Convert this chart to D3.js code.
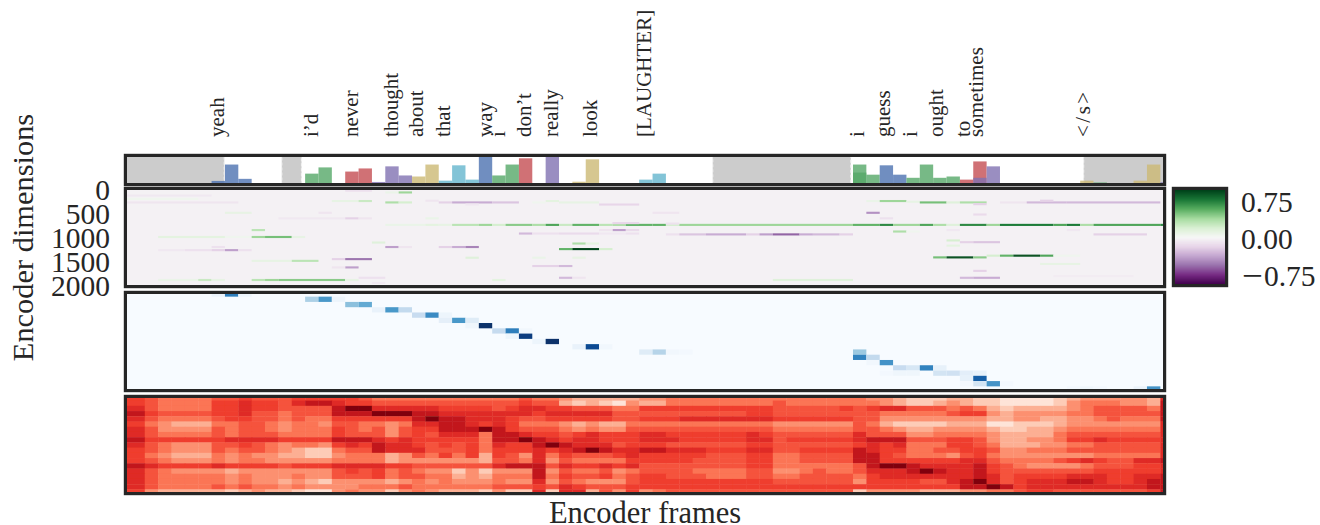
<!DOCTYPE html>
<html><head><meta charset="utf-8">
<script src="https://cdnjs.cloudflare.com/ajax/libs/d3/7.8.5/d3.min.js"></script>
<style>html,body{margin:0;padding:0;background:#fff;overflow:hidden}svg{display:block}text{font-family:"Liberation Serif",serif;fill:#262626}</style>
</head><body><svg id="c" width="1320" height="525"></svg>
<script>
const words=["yeah","i’d","never","thought","about","that","way","i","don’t","really","look","[LAUGHTER]","i","guess","i","ought","to","sometimes","</s>"];
const wordFrames=[5.93,12.96,15.93,18.95,20.85,22.85,25.95,26.97,28.87,30.93,33.85,37.9,53.8,55.76,57.76,59.75,61.77,62.76,70.75];
const silenceSpans=[[-2,5.95],[10.25,11.73],[42.5,52.84],[70.26,78]];
const barFrames=[5,6,7,12,13,15,16,17,18,19,20,21,22,23,24,25,26,27,28,30,32,33,37,38,53,53,54,55,56,57,58,59,60,61,62,62,63,70,71,74,75,76];
const barValues=[.08,.71,.16,.36,.6,.44,.56,.04,.64,.29,.25,.71,.09,.68,.13,1,.29,.71,.95,1,.05,.91,.13,.36,.71,.4,.32,.68,.32,.2,.71,.2,.25,.13,.83,.2,.64,.09,.02,.09,.71,.03];
const barColorIdx=[0,0,0,1,1,2,2,3,3,3,4,4,5,5,5,0,1,1,2,3,4,4,5,5,1,1,1,0,0,1,1,1,1,2,2,3,3,4,1,4,4,3];
const barPalette=["#4C72B0","#55A868","#C44E52","#8172B2","#CCB974","#64B5CD"];
const dimTicks=[0,500,1000,1500,2000];
const cbarTicks=[0.75,0,-0.75];
const prgnStops=["#40004b","#762a83","#9970ab","#c2a5cf","#e7d4e8","#f7f7f7","#d9f0d3","#a6dba0","#5aae61","#1b7837","#00441b"];
const redsStops=["#fff5f0","#fee0d2","#fcbba1","#fc9272","#fb6a4a","#ef3b2c","#cb181d","#a50f15","#67000d"];
const bluesStops=["#f7fbff","#deebf7","#c6dbef","#9ecae1","#6baed6","#4292c6","#2171b5","#08519c","#08306b"];
// [dimension, first frame, last frame, value]
const activationStreaks=[
[15,15,16,-.12],[51,18,18,.08],[51,19,19,.4],[115,-1,4,-.08],[187,-1,3,.05],[259,-1,6,-.1],[230,14,15,.1],[230,16,16,.25],[259,18,18,.35],[259,19,19,.2],[223,21,21,-.1],[259,22,22,-.2],[259,23,25,-.35],[259,26,27,-.25],[303,24,24,-.08],[230,30,30,.12],[259,29,29,.05],[259,31,33,.1],[303,34,36,-.18],
[475,6,7,.1],[475,13,13,-.1],[590,10,14,-.08],[590,15,15,-.2],[590,16,16,-.1],[590,21,21,.08],
[727,18,20,.08],[727,21,21,.12],[727,22,22,.1],[727,23,24,.3],[727,25,25,.4],[727,26,26,.2],[727,27,28,.45],[727,29,29,.35],[727,30,30,.6],[727,31,31,.25],[727,32,33,.55],[727,34,34,.3],[727,35,35,.35],[727,36,37,.55],[727,38,38,.55],[727,39,39,.2],[727,40,52,.4],[727,53,54,.55],[727,55,55,.7],[727,56,57,.4],[727,58,58,.6],[727,59,59,.35],[727,60,60,.15],[727,61,62,.7],[727,63,63,.4],[727,64,67,.75],[727,68,68,.6],[727,69,69,.75],[727,70,70,.35],[727,71,75,.6],[727,76,76,.7],
[835,8,8,.3],[690,35,36,-.18],[835,35,35,-.4],[835,36,36,-.15],[835,34,34,-.1],
[979,1,5,.12],[979,6,7,.05],[979,8,8,.4],[979,9,10,.5],[979,11,11,.1],
[907,28,28,-.3],[907,29,30,-.12],[907,31,33,-.15],[907,34,35,-.08],[907,36,36,-.12],
[1095,17,17,.15],[1115,32,32,.35],[1115,33,33,.12],[1188,18,18,-.4],[1188,19,19,-.1],[1188,22,22,-.2],[1188,23,23,-.35],[1188,24,24,-.5],[1188,5,5,-.12],
[1253,1,2,-.08],[1253,3,4,-.12],[1253,5,5,-.2],[1253,6,6,-.4],[1253,7,7,-.12],
[1231,31,31,.55],[1231,32,33,.95],[1231,34,34,.2],[1440,14,14,-.2],[1440,15,16,-.55],[1476,8,10,.1],[1476,11,12,.3],[1411,24,24,.15],[1411,29,29,.08],[1411,32,32,.1],
[1613,15,15,-.4],[1613,14,14,-.1],[1584,29,30,-.2],[1584,31,31,-.3],[1829,31,31,-.3],[1829,32,32,-.1],
[1875,1,3,.08],[1875,4,4,.25],[1875,5,5,.1],[1875,8,8,.3],[1875,9,9,.4],[1875,10,14,.45],[1875,15,15,.1],[1875,26,26,.12],[1829,16,17,-.12],[1937,17,17,-.08],[2009,18,19,-.08],[2009,22,24,-.15],
[475,38,39,-.1],[700,39,39,-.12],[925,39,39,-.12],[925,40,41,-.25],[925,42,44,-.35],[925,45,45,-.2],[925,46,46,-.4],[925,47,48,-.6],[925,49,49,-.35],[925,50,51,-.3],[925,52,52,-.2],
[230,54,54,.08],[230,55,56,.4],[245,57,57,.1],[259,58,59,.5],[259,60,60,.15],[259,61,62,.35],[259,64,65,-.1],[259,66,68,-.3],[259,69,75,-.3],[223,67,67,-.2],
[475,54,54,-.45],[511,62,62,-.15],[295,62,62,-.2],[590,55,55,-.12],[865,56,56,.35],[865,57,57,.05],[835,60,60,-.08],[835,69,69,-.08],[925,71,74,-.2],
[1051,60,60,.2],[1087,61,61,-.2],[1087,62,63,-.25],[1159,60,60,.12],
[1404,59,59,.5],[1404,60,61,.9],[1404,62,62,.45],[1368,63,63,.2],[1368,64,64,.55],[1368,65,66,.9],[1368,67,67,.6],[1368,68,69,.05],
[1685,62,62,-.2],[1829,61,61,-.3],[1829,62,63,-.35],[1875,47,52,.15],[1541,67,69,.1],[1793,68,73,-.06]
];
const attRows=[0,0,0,1,1,1,2,2,3,3,3,4,4,4,5,5,5,6,6,7,7,7,8,8,9,9,10,10,10,11,11,11,11,11,12,12,13,13,14,14,14,14,15,15,15,15,15,15,15,16,16,17,17,17,17,18,18,18,18,18];
const attFrames=[5,6,7,12,13,14,15,16,17,18,19,20,21,22,22,23,24,24,25,26,27,28,27,28,29,30,32,33,34,37,38,39,40,53,53,54,54,55,57,58,59,56,55,56,57,59,60,61,62,61,62,61,62,63,64,69,70,71,74,75];
const attValues=[.06,.7,.05,.33,.6,.05,.42,.52,.07,.6,.26,.24,.65,.05,.09,.6,.12,.04,1,.25,.7,.03,.05,.95,.05,1,.07,.9,.03,.12,.3,.03,.02,.38,.68,.26,.03,.62,.16,.68,.08,.24,.02,.04,.04,.18,.2,.1,.08,.08,.82,.02,.18,.62,.02,.02,.04,.02,.06,.62];
// one digit per frame, from frame -1 to frame 76; rows run over the 19 words
const encoderRows=[
"6544445565 5566666544 4444444445 44322222 3344444444 4444444332 1112211000 0123333327",
"6544446676 6578876655 5555555556 55212103 2244444444 5444444432 1123211000 0134443328",
"7544446676 6555589977 7776666567 76655544 6666666666 5555565677 5554542122 2234555548",
"8655556675 5455588899 9887777777 67777755 5555555566 5555555544 4445663233 3344555558",
"7544445665 5454466666 6898877765 56666655 6667777777 6666665533 3333332233 2233454448",
"6432224455 4344355443 4778876764 44323224 4444444444 3333335421 1112220011 1233333337",
"7533335455 4344465453 5668889865 55434335 5555555555 4444445543 2233332112 2344444447",
"7544445455 5444465553 5657774887 66567666 7766666676 5555557555 3344443222 2455555557",
"8666666777 7666688876 7666664889 87677666 7776666677 5666667888 5556653223 3466766667",
"7543335565 4344367687 7656564766 89877756 6655555566 5555556767 4446654222 3344555557",
"6543335455 4321145587 7755564666 76789877 8877766677 5566668766 4455665334 4455555557",
"6432224343 3221134442 3546462653 74655567 6666655566 4455558865 4443564333 3333444447",
"6543334344 3333344442 3333332554 73544446 6666555566 4455558866 6666775444 4567655778",
"8766667666 6566677776 6555555788 85766767 5555555566 4444445899 8777786543 3334555667",
"7543333233 3333356564 5433131333 83544534 5555444455 3345445777 8987786555 5555666667",
"7544444343 3343355564 5544232444 84655645 6655544455 4455554677 7777787566 6677766778",
"7544444343 3232133332 3434333433 73543335 6666666666 5555553666 6557897567 7788766788",
"7544445454 4343333444 5444444555 65765556 6666666666 6666666666 6666889867 7777777788",
"6322222123 2210034331 3432221311 71772536 3455555555 5555551333 3222334456 6555555568"
].map(r=>r.replace(/ /g,"").split("").map(Number));

const prgn=d3.piecewise(d3.interpolateRgb,prgnStops);
const reds=d3.piecewise(d3.interpolateRgb,redsStops);
const blues=d3.piecewise(d3.interpolateRgb,bluesStops);
const svg=d3.select("#c");
const ink="#262626",frameW=3.2;
const L=127,R=1163;
const x=d3.scaleLinear().domain([-1.33,76.2]).range([L,R]);
const panels={top:[157,183],act:[190,285],att:[294,389],enc:[398,492]};
const defs=svg.append("defs");
defs.append("filter").attr("id","soft").attr("x","-2%").attr("y","-10%").attr("width","104%").attr("height","120%")
 .append("feGaussianBlur").attr("stdDeviation",0.6);
function panel(name){
  const [t,b]=panels[name];
  defs.append("clipPath").attr("id","clip-"+name).append("rect").attr("x",L).attr("y",t).attr("width",R-L).attr("height",b-t);
  return svg.append("g").attr("clip-path",`url(#clip-${name})`);
}
function frame(x0,x1,t,b){
  svg.append("rect").attr("x",x0-frameW/2).attr("y",t-frameW/2).attr("width",x1-x0+frameW).attr("height",b-t+frameW)
   .attr("fill","none").attr("stroke",ink).attr("stroke-width",frameW);
}
const cellX=k=>k<0?x(-3):x(k);
const cellW=k=>x(k+1)-cellX(k);

// --- word alignment bars
{
  const g=panel("top");
  const y=d3.scaleLinear().domain([0,1]).range(panels.top.slice().reverse());
  g.selectAll(".s").data(silenceSpans).join("rect").attr("x",d=>x(d[0])).attr("width",d=>x(d[1])-x(d[0]))
   .attr("y",panels.top[0]-4).attr("height",panels.top[1]-panels.top[0]+8).attr("fill","#cccccc")
   .attr("stroke","#f2f2f2").attr("stroke-width",1.2).attr("stroke-dasharray","3 2");
  g.selectAll(".b").data(barFrames).join("rect").attr("x",d=>x(d)).attr("width",x(1)-x(0))
   .attr("y",(d,i)=>y(barValues[i])).attr("height",(d,i)=>y(0)-y(barValues[i]))
   .attr("fill",(d,i)=>barPalette[barColorIdx[i]]).attr("opacity",0.8);
  svg.selectAll(".w").data(words).join("text").attr("font-size",21)
   .attr("letter-spacing",d=>d==="</s>"?2.5:null)
   .attr("transform",(d,i)=>`translate(${x(wordFrames[i])},137) rotate(-90)`).text(d=>d);
  frame(L,R,...panels.top);
}
// --- encoder activations
const actColor=d3.scaleSequential(prgn).domain([-0.95,0.95]);
{
  const g=panel("act").append("g").attr("filter","url(#soft)");
  const y=d3.scaleLinear().domain([0,2000]).range([190,286]);
  g.append("rect").attr("x",L-5).attr("y",panels.act[0]-5).attr("width",R-L+10).attr("height",105).attr("fill",actColor(-0.035));
  g.selectAll("rect.st").data(activationStreaks).join("rect").attr("class","st")
   .attr("x",d=>cellX(d[1])).attr("width",d=>x(d[2]+1)-cellX(d[1]))
   .attr("y",d=>y(d[0]-22)).attr("height",y(44)-y(0)).attr("fill",d=>actColor(d[3]));
  const ax=d3.axisLeft(y).tickValues(dimTicks).tickSize(0).tickPadding(0).tickFormat(d3.format("d"));
  const a=svg.append("g").attr("transform","translate(110,0)").call(ax);
  a.select(".domain").remove();
  a.selectAll("text").attr("font-size",29.5).attr("font-family","Liberation Serif").attr("fill",ink).attr("dy","0.33em").attr("x",0);
  frame(L,R,...panels.act);
}
// --- attention (blues)
{
  const [t,b]=panels.att;
  const y=d3.scaleLinear().domain([0,18]).range([t,b]);
  const g=panel("att").append("g").attr("filter","url(#soft)");
  g.append("rect").attr("x",L-5).attr("y",t-5).attr("width",R-L+10).attr("height",b-t+10).attr("fill",blues(0));
  g.selectAll("rect.c").data(attRows).join("rect").attr("class","c")
   .attr("x",(d,i)=>x(attFrames[i])).attr("width",x(1)-x(0))
   .attr("y",d=>y(d-0.5)).attr("height",y(1)-y(0))
   .attr("fill",(d,i)=>blues(attValues[i]));
  frame(L,R,t,b);
}
// --- encoder states (reds)
{
  const [t,b]=panels.enc;
  const y=d3.scaleLinear().domain([0,18]).range([t,b]);
  const col=d3.scaleLinear().domain([0,3,5,7,8,9]).range([.1,.38,.56,.68,.78,.95]);
  const g=panel("enc").append("g").attr("filter","url(#soft)");
  encoderRows.forEach((row,r)=>{
    g.selectAll(null).data(row).join("rect")
     .attr("x",(d,i)=>cellX(i-1)).attr("width",(d,i)=>cellW(i-1)+0.4)
     .attr("y",y(r-0.5)).attr("height",y(1)-y(0)+0.4)
     .attr("fill",d=>reds(col(d)));
  });
  frame(L,R,t,b);
}
// --- colour bar
{
  const t=190,b=284,x0=1175,x1=1225;
  const y=d3.scaleLinear().domain([-0.95,0.95]).range([b,t]);
  const stops=d3.range(-0.95,0.9501,0.02);
  svg.selectAll(".cb").data(stops).join("rect").attr("x",x0).attr("width",x1-x0)
   .attr("y",d=>y(d)-1).attr("height",Math.abs(y(0)-y(0.02))+1).attr("fill",d=>actColor(d));
  frame(x0,x1,t,b);
  const ax=d3.axisRight(y).tickValues(cbarTicks).tickSize(0).tickPadding(0).tickFormat(d=>d3.format(".2f")(Math.abs(d)));
  const a=svg.append("g").attr("transform","translate(1241,1.5)").call(ax);
  a.select(".domain").remove();
  a.selectAll("text").attr("font-size",29.5).attr("font-family","Liberation Serif").attr("fill",ink).attr("x",0).attr("dy","0.33em");
  a.selectAll(".tick").filter(d=>d<0).select("text").attr("x",1).each(function(){
    const t=d3.select(this),s=t.text();t.text(null);
    t.append("tspan").attr("font-size",37).attr("dy","0.33em").text("−");
    t.append("tspan").attr("dx",1).attr("dy",-2).text(s);
  });
}
svg.append("text").attr("font-size",30.5).attr("text-anchor","middle").attr("x",645).attr("y",523).text("Encoder frames");
svg.append("text").attr("font-size",30.4).attr("text-anchor","middle").attr("transform","translate(33,237.5) rotate(-90)").text("Encoder dimensions");
</script></body></html>
